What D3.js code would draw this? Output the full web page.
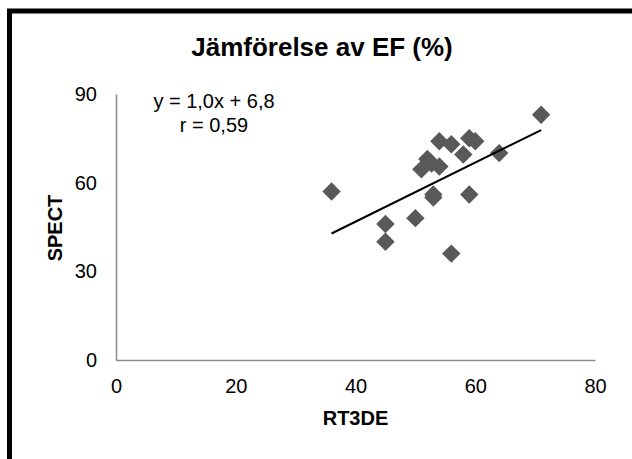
<!DOCTYPE html>
<html>
<head>
<meta charset="utf-8">
<script src="https://cdn.jsdelivr.net/npm/d3@7"></script>
<style>
  body { margin: 0; background: #fff; }
  svg { display: block; font-family: "Liberation Sans", Arial, sans-serif; }
</style>
</head>
<body>
<div id="chart"></div>
<script>
// data
var rt3de = [71, 36, 54, 56, 59, 60, 58, 64, 52, 52.7, 51, 54, 53, 53, 59, 50, 45, 45, 56];
var spect = [83, 57, 74, 73, 75, 74, 69.5, 70, 68, 66.5, 64.5, 65.5, 56, 55, 56, 48, 46, 40, 36];
var xTicks = [0, 20, 40, 60, 80];
var yTicks = [0, 30, 60, 90];
var trendCoef = [1.0, 6.8]; // slope, intercept
var labels = ["Jämförelse av EF (%)", "RT3DE", "SPECT", "y = 1,0x + 6,8", "r = 0,59"];

var width = 632, height = 459;
var margin = {top: 94, right: 37, bottom: 99, left: 116};

var svg = d3.select("#chart").append("svg")
    .attr("width", width)
    .attr("height", height);

// thick frame on top and left
svg.append("path")
    .attr("d", "M9.5," + height + "V11H" + width)
    .attr("fill", "none")
    .attr("stroke", "#000")
    .attr("stroke-width", 5);

var x = d3.scaleLinear().domain([0, 80]).range([margin.left, width - margin.right]);
var y = d3.scaleLinear().domain([0, 90]).range([height - margin.bottom, margin.top]);

//x axis
var gx = svg.append("g")
    .attr("transform", "translate(0," + y(0) + ")")
    .call(d3.axisBottom(x).tickValues(xTicks).tickSize(0).tickPadding(19));
gx.select(".domain").attr("stroke", "#8c8c8c").attr("stroke-width", 1.5);
gx.selectAll("text").style("font-size", "20px").attr("fill", "#000");

//y axis
var gy = svg.append("g")
    .attr("transform", "translate(" + x(0) + ",0)")
    .call(d3.axisLeft(y).tickValues(yTicks).tickSize(0).tickPadding(19));
gy.select(".domain").attr("stroke", "#8c8c8c").attr("stroke-width", 1.5);
gy.selectAll("text").style("font-size", "20px").attr("fill", "#000");

//points
var pts = rt3de.map(function (d, i) { return [d, spect[i]]; });
var diamond = d3.symbol().type(d3.symbolSquare).size(170);
svg.append("g").selectAll("path")
    .data(pts)
    .enter().append("path")
    .attr("d", diamond)
    .attr("fill", "#595959")
    .attr("transform", function (d) {
        return "translate(" + x(d[0]) + "," + y(d[1]) + ") rotate(45)";
    });

//trend line over the data range
var xr = d3.extent(rt3de);
svg.append("line")
    .attr("x1", x(xr[0]))
    .attr("y1", y(trendCoef[0] * xr[0] + trendCoef[1]))
    .attr("x2", x(xr[1]))
    .attr("y2", y(trendCoef[0] * xr[1] + trendCoef[1]))
    .attr("stroke", "#000")
    .attr("stroke-width", 2);

//title
svg.append("text")
    .attr("x", 322)
    .attr("y", 56)
    .attr("text-anchor", "middle")
    .style("font-size", "26px")
    .style("font-weight", "bold")
    .text(labels[0]);

//axis titles
svg.append("text")
    .attr("x", (x(0) + x(80)) / 2)
    .attr("y", 425)
    .attr("text-anchor", "middle")
    .style("font-size", "20px")
    .style("font-weight", "bold")
    .text(labels[1]);

svg.append("text")
    .attr("transform", "translate(62,228) rotate(-90)")
    .attr("text-anchor", "middle")
    .style("font-size", "20px")
    .style("font-weight", "bold")
    .text(labels[2]);

//equation
svg.append("text")
    .attr("x", 214)
    .attr("y", 108)
    .attr("text-anchor", "middle")
    .style("font-size", "20px")
    .text(labels[3]);
svg.append("text")
    .attr("x", 214)
    .attr("y", 132)
    .attr("text-anchor", "middle")
    .style("font-size", "20px")
    .text(labels[4]);
</script>
</body>
</html>
